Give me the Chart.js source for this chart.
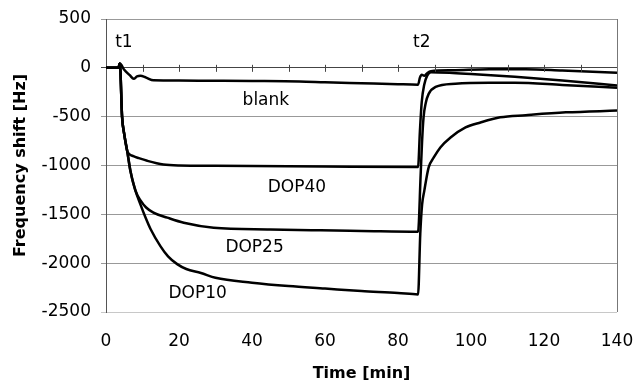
<!DOCTYPE html>
<html>
<head>
<meta charset="utf-8">
<script src="https://cdn.jsdelivr.net/npm/chart.js@4/dist/chart.umd.min.js"></script>
<style>
  html, body { margin: 0; padding: 0; background: #fff; }
  #wrap { width: 634px; height: 383px; }
</style>
</head>
<body>
<div id="wrap"><canvas id="qcmChart"></canvas></div>
<script>
// time axis [min] and frequency shift [Hz]
const blankTime  = [0, 3.4, 3.8, 5, 6.5, 7.6, 8.5, 9.4, 11, 13, 20, 28, 40, 53, 60, 70, 80, 85.5, 86, 86.5, 87.2, 88, 89, 95, 105, 115, 125, 140];
const blankShift = [0, 0, 45, -20, -75, -112, -88, -82, -100, -128, -130, -132, -135, -140, -148, -158, -168, -172, -100, -70, -82, -55, -35, -25, -15, -15, -28, -50];

const dop40Time  = [0, 3.4, 3.8, 4.4, 5, 5.8, 6.3, 7.5, 9, 11.3, 15.7, 20, 30, 40, 60, 85.5, 86, 86.5, 87.2, 88, 89, 95, 100, 112, 125, 140];
const dop40Shift = [0, 0, 45, -500, -680, -850, -880, -905, -925, -952, -990, -1000, -1003, -1005, -1010, -1015, -650, -350, -170, -80, -45, -52, -62, -92, -130, -180];

const dop25Time  = [0, 3.4, 3.8, 4.4, 5, 5.8, 6.7, 8.1, 9.5, 11, 13, 16.8, 21.3, 29.5, 45, 58.8, 70, 85.5, 86.2, 86.6, 87, 87.6, 88.4, 90.3, 95.7, 105, 112, 125, 140];
const dop25Shift = [0, 0, 45, -500, -680, -850, -1055, -1260, -1360, -1430, -1483, -1534, -1586, -1637, -1655, -1664, -1670, -1678, -1100, -750, -507, -360, -267, -195, -162, -152, -152, -175, -205];

const dop10Time  = [0, 3.4, 3.8, 4.4, 5, 5.8, 6.7, 8, 9.4, 10.8, 12.2, 14.9, 17, 19.5, 22, 26, 30, 40, 50, 60, 70, 80, 85.5, 86.1, 86.6, 87.2, 88.4, 89.8, 91.6, 94.4, 98.5, 102.6, 108, 115, 126, 140];
const dop10Shift = [0, 0, 45, -500, -680, -850, -1060, -1250, -1395, -1530, -1650, -1825, -1930, -2010, -2060, -2100, -2150, -2200, -2235, -2260, -2285, -2305, -2320, -1700, -1400, -1260, -1020, -918, -815, -713, -610, -559, -507, -485, -456, -438];

// text labels placed in data coordinates
const noteText  = ['t1', 't2', 'blank', 'DOP40', 'DOP25', 'DOP10'];
const noteTime  = [4.9, 86.5, 43.8, 52.3, 40.7, 25.1];
const noteShift = [260, 260, -336, -1222, -1841, -2310];

const minorTicks = [10, 20, 30, 40, 50, 60, 70, 80, 90, 100, 110, 120, 130];

function toPoints(xs, ys) {
  return xs.map((x, i) => ({ x: x, y: ys[i] }));
}

function series(label, xs, ys) {
  return {
    label: label,
    data: toPoints(xs, ys),
    borderColor: '#000',
    borderWidth: 2.5,
    pointRadius: 0,
    fill: false,
    cubicInterpolationMode: 'monotone'
  };
}

// tick marks on the zero line + curve labels
const extras = {
  id: 'extras',
  afterDatasetsDraw(chart) {
    const ctx = chart.ctx;
    const xs = chart.scales.x, ys = chart.scales.y;
    const y0 = ys.getPixelForValue(0);
    ctx.save();
    ctx.strokeStyle = '#444';
    ctx.lineWidth = 1;
    ctx.beginPath();
    minorTicks.forEach(t => {
      const px = Math.round(xs.getPixelForValue(t)) + 0.5;
      ctx.moveTo(px, y0 - 3);
      ctx.lineTo(px, y0 + 4);
    });
    ctx.stroke();

    ctx.fillStyle = '#000';
    ctx.font = '17px "DejaVu Sans"';
    ctx.textAlign = 'center';
    ctx.textBaseline = 'middle';
    noteText.forEach((txt, i) => {
      ctx.fillText(txt, xs.getPixelForValue(noteTime[i]), ys.getPixelForValue(noteShift[i]));
    });
    ctx.restore();
  }
};

new Chart(document.getElementById('qcmChart').getContext('2d'), {
  type: 'line',
  data: {
    datasets: [
      series('blank', blankTime, blankShift),
      series('DOP40', dop40Time, dop40Shift),
      series('DOP25', dop25Time, dop25Shift),
      series('DOP10', dop10Time, dop10Shift)
    ]
  },
  options: {
    responsive: true,
    maintainAspectRatio: false,
    animation: false,
    events: [],
    layout: { padding: { left: 0, right: 17, top: 19, bottom: 0 } },
    plugins: { legend: { display: false }, tooltip: { enabled: false } },
    scales: {
      x: {
        type: 'linear',
        min: 0,
        max: 140,
        afterFit(scale) {
          scale.height = 71;
          scale.paddingLeft = 0;
          scale.paddingRight = 0;
        },
        border: { display: false },
        grid: {
          drawTicks: false,
          color: c => (c.tick && c.tick.value === 140 ? '#777' : 'rgba(0,0,0,0)')
        },
        ticks: {
          stepSize: 20,
          padding: 19,
          color: '#000',
          font: { family: 'DejaVu Sans', size: 17 },
          callback: v => String(v)
        },
        title: {
          display: true,
          text: 'Time [min]',
          color: '#000',
          font: { family: 'DejaVu Sans', size: 16, weight: 'bold' },
          padding: { top: 0, bottom: 0 }
        }
      },
      y: {
        min: -2500,
        max: 500,
        afterFit(scale) {
          scale.width = 106;
          scale.paddingTop = 0;
          scale.paddingBottom = 0;
        },
        border: { display: true, color: '#555', width: 1 },
        grid: {
          drawTicks: true,
          tickLength: 5,
          color: c => {
            if (!c.tick) return '#999';
            if (c.tick.value === 0) return '#444';
            if (c.tick.value === -2500) return '#c8c8c8';
            return '#999';
          }
        },
        ticks: {
          stepSize: 500,
          padding: 10,
          color: '#000',
          font: { family: 'DejaVu Sans', size: 17 },
          callback: v => String(v)
        },
        title: {
          display: true,
          text: 'Frequency shift [Hz]',
          color: '#000',
          font: { family: 'DejaVu Sans', size: 16, weight: 'bold' },
          padding: { top: 11, bottom: 0 }
        }
      }
    }
  },
  plugins: [extras]
});
</script>
</body>
</html>
